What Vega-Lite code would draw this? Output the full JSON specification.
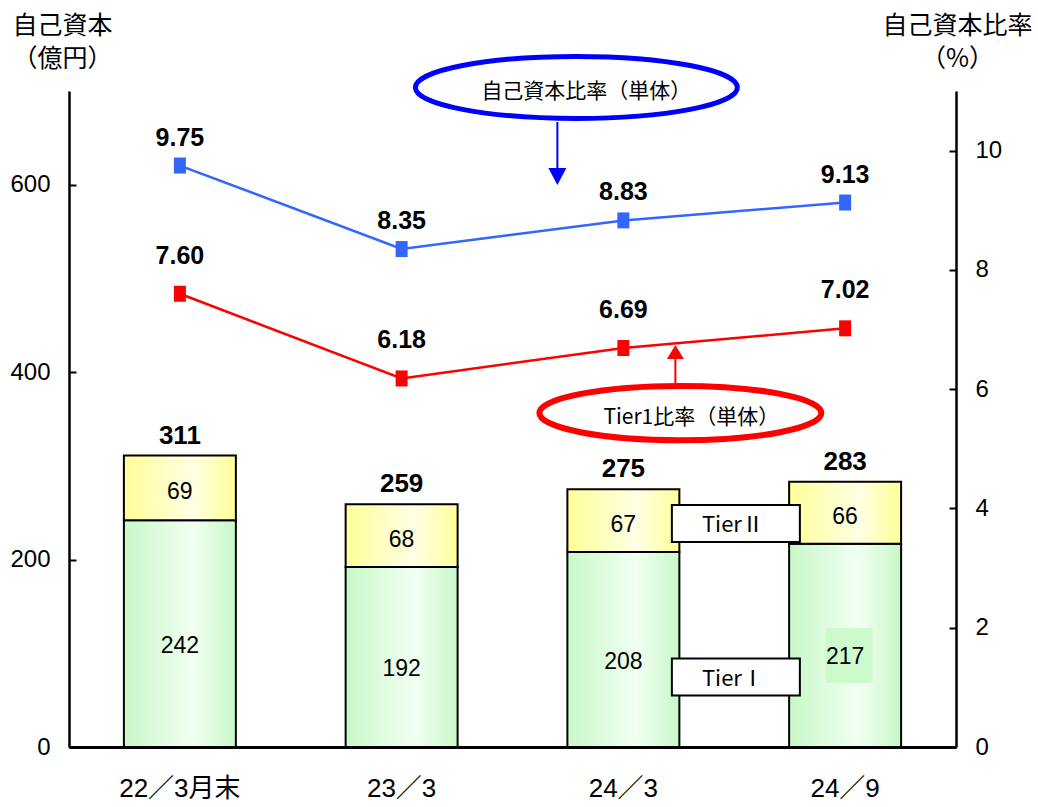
{
  "$schema": "https://vega.github.io/schema/vega-lite/v6.json",
  "width": 887,
  "height": 656,
  "autosize": {"type": "none"},
  "padding": {"left": 69, "top": 91, "right": 82, "bottom": 60},
  "background": "white",
  "config": {"view": {"stroke": null}, "axis": {"grid": false}},
  "datasets": {
    "cap": [
      {"cat": "22／3月末", "t1": 242, "t2": 69, "total": 311},
      {"cat": "23／3", "t1": 192, "t2": 68, "total": 259},
      {"cat": "24／3", "t1": 208, "t2": 67, "total": 275},
      {"cat": "24／9", "t1": 217, "t2": 66, "total": 283}
    ],
    "ratio": [
      {"cat": "22／3月末", "car": 9.75, "t1r": 7.60},
      {"cat": "23／3", "car": 8.35, "t1r": 6.18},
      {"cat": "24／3", "car": 8.83, "t1r": 6.69},
      {"cat": "24／9", "car": 9.13, "t1r": 7.02}
    ]
  },
  "encoding": {
    "x": {
      "field": "cat",
      "type": "nominal",
      "scale": {"domain": ["22／3月末", "23／3", "24／3", "24／9"], "paddingInner": 0.495, "paddingOuter": 0.2475},
      "axis": {
        "title": null,
        "labelAngle": 0,
        "ticks": false,
        "domainColor": "black",
        "domainWidth": 3,
        "labelColor": "black",
        "labelFont": "Liberation Sans, Noto Sans CJK JP, sans-serif",
        "labelFontSize": 26,
        "labelPadding": 28
      }
    }
  },
  "layer": [
    {
      "data": {"name": "cap"},
      "layer": [
        {
          "mark": {
            "type": "bar",
            "stroke": "black",
            "strokeWidth": 2,
            "fill": {"gradient": "linear", "x1": 0, "x2": 1, "y1": 0, "y2": 0,
              "stops": [{"offset": 0, "color": "#c8f8c8"}, {"offset": 0.62, "color": "#f2fff2"}, {"offset": 1, "color": "#c8f8c8"}]}
          },
          "encoding": {
            "y": {
              "field": "t1",
              "type": "quantitative",
              "scale": {"domain": [0, 700], "nice": false},
              "axis": {
                "orient": "left",
                "values": [0, 200, 400, 600],
                "format": "d",
                "tickSize": -7,
                "tickWidth": 2,
                "tickColor": "black",
                "domainColor": "black",
                "domainWidth": 2.5,
                "labelColor": "black",
                "labelFont": "Liberation Sans, sans-serif",
                "labelFontSize": 24,
                "labelPadding": 26,
                "title": ["自己資本", "（億円）"],
                "titleAngle": 0,
                "titleAlign": "center",
                "titleBaseline": "top",
                "titleX": -7,
                "titleY": -78,
                "titleFont": "Noto Sans CJK JP",
                "titleFontSize": 25,
                "titleFontWeight": "normal",
                "titleLineHeight": 33,
                "titleColor": "black"
              }
            }
          }
        },
        {
          "mark": {
            "type": "bar",
            "stroke": "black",
            "strokeWidth": 2,
            "fill": {"gradient": "linear", "x1": 0, "x2": 1, "y1": 0, "y2": 0,
              "stops": [{"offset": 0, "color": "#ffff99"}, {"offset": 0.62, "color": "#ffffe4"}, {"offset": 1, "color": "#ffff99"}]}
          },
          "encoding": {
            "y": {"field": "total", "type": "quantitative"},
            "y2": {"field": "t1"}
          }
        },
        {
          "mark": {"type": "text", "font": "Liberation Sans, sans-serif", "fontSize": 26, "fontWeight": "bold", "color": "black", "baseline": "alphabetic", "dy": -12},
          "encoding": {
            "y": {"field": "total", "type": "quantitative"},
            "text": {"field": "total"}
          }
        },
        {
          "transform": [{"fold": ["t1", "total"], "as": ["k", "v"]}],
          "mark": {"type": "text", "font": "Liberation Sans, sans-serif", "fontSize": 23, "color": "black", "baseline": "middle", "dy": 4},
          "encoding": {
            "y": {"aggregate": "mean", "field": "v", "type": "quantitative"},
            "text": {"field": "t2", "type": "quantitative"}
          }
        },
        {
          "data": {"values": [{"cat": "24／9", "v": 97.6}]},
          "mark": {"type": "point", "shape": "M -1 -1.17 L 1 -1.17 L 1 1.17 L -1 1.17 Z", "size": 2209, "filled": true, "color": "#cdfacd", "opacity": 1, "strokeWidth": 0, "xOffset": 4},
          "encoding": {"y": {"field": "v", "type": "quantitative"}}
        },
        {
          "data": {"values": [{"cat": "24／3", "v": 238.5}, {"cat": "24／3", "v": 74.7}]},
          "mark": {"type": "point", "shape": "M -1 -0.289 L 1 -0.289 L 1 0.289 L -1 0.289 Z", "size": 16384, "filled": true, "fill": "white", "stroke": "black", "strokeWidth": 2, "opacity": 1, "xOffset": 112.5},
          "encoding": {"y": {"field": "v", "type": "quantitative"}}
        },
        {
          "data": {"values": [{"cat": "24／3", "v": 238.5, "label": "TierⅡ"}, {"cat": "24／3", "v": 74.7, "label": "TierⅠ"}]},
          "mark": {"type": "text", "font": "Noto Sans CJK JP", "fontSize": 22, "color": "black", "baseline": "middle", "xOffset": 109.5, "dy": 2},
          "encoding": {"y": {"field": "v", "type": "quantitative"}, "text": {"field": "label"}}
        }
      ]
    },
    {
      "data": {"name": "cap"},
      "mark": {"type": "text", "font": "Liberation Sans, sans-serif", "fontSize": 23, "color": "black", "baseline": "middle", "dy": 12},
      "encoding": {
        "y": {"field": "t1", "type": "quantitative", "scale": {"domain": [0, 1400], "nice": false}, "axis": null},
        "text": {"field": "t1"}
      }
    },
    {
      "data": {"name": "ratio"},
      "layer": [
        {
          "mark": {"type": "line", "color": "#3366ff", "strokeWidth": 2.5},
          "encoding": {
            "y": {
              "field": "car",
              "type": "quantitative",
              "scale": {"domain": [0, 11], "nice": false},
              "axis": {
                "orient": "right",
                "values": [0, 2, 4, 6, 8, 10],
                "format": "d",
                "tickSize": -7,
                "tickWidth": 2,
                "tickColor": "black",
                "domainColor": "black",
                "domainWidth": 2.5,
                "labelColor": "black",
                "labelFont": "Liberation Sans, sans-serif",
                "labelFontSize": 24,
                "labelPadding": 26,
                "title": ["自己資本比率", "（%）"],
                "titleAngle": 0,
                "titleAlign": "center",
                "titleBaseline": "top",
                "titleX": 1,
                "titleY": -78,
                "titleFont": "Noto Sans CJK JP",
                "titleFontSize": 25,
                "titleFontWeight": "normal",
                "titleLineHeight": 33,
                "titleColor": "black"
              }
            }
          }
        },
        {
          "mark": {"type": "point", "shape": "M -0.75 -1 L 0.75 -1 L 0.75 1 L -0.75 1 Z", "size": 256, "filled": true, "color": "#3366ff", "opacity": 1},
          "encoding": {"y": {"field": "car", "type": "quantitative"}}
        },
        {
          "mark": {"type": "text", "font": "Liberation Sans, sans-serif", "fontSize": 25, "fontWeight": "bold", "color": "black", "baseline": "alphabetic", "dy": -20},
          "encoding": {"y": {"field": "car", "type": "quantitative"}, "text": {"field": "car", "type": "quantitative", "format": ".2f"}}
        },
        {
          "mark": {"type": "line", "color": "#ff0000", "strokeWidth": 2.5},
          "encoding": {"y": {"field": "t1r", "type": "quantitative"}}
        },
        {
          "mark": {"type": "point", "shape": "M -0.75 -1 L 0.75 -1 L 0.75 1 L -0.75 1 Z", "size": 256, "filled": true, "color": "#ff0000", "opacity": 1},
          "encoding": {"y": {"field": "t1r", "type": "quantitative"}}
        },
        {
          "mark": {"type": "text", "font": "Liberation Sans, sans-serif", "fontSize": 25, "fontWeight": "bold", "color": "black", "baseline": "alphabetic", "dy": -30},
          "encoding": {"y": {"field": "t1r", "type": "quantitative"}, "text": {"field": "t1r", "type": "quantitative", "format": ".2f"}}
        },
        {
          "data": {"values": [{"cat": "24／3", "v": 11.06}]},
          "mark": {"type": "point", "shape": "M -1 0 C -1 -0.1063 -0.5523 -0.1925 0 -0.1925 C 0.5523 -0.1925 1 -0.1063 1 0 C 1 0.1063 0.5523 0.1925 0 0.1925 C -0.5523 0.1925 -1 0.1063 -1 0 Z", "size": 103684, "filled": false, "stroke": "#0000ff", "strokeWidth": 5, "opacity": 1, "xOffset": -47},
          "encoding": {"y": {"field": "v", "type": "quantitative"}}
        },
        {
          "data": {"values": [{"cat": "24／3", "v": 10.98, "label": "自己資本比率（単体）"}]},
          "mark": {"type": "text", "font": "Noto Sans CJK JP", "fontSize": 21, "color": "black", "baseline": "middle", "xOffset": -37},
          "encoding": {"y": {"field": "v", "type": "quantitative"}, "text": {"field": "label"}}
        },
        {
          "data": {"values": [{"cat": "24／3", "v": 10.48, "v2": 9.675}]},
          "mark": {"type": "rule", "color": "#0000ff", "strokeWidth": 2, "xOffset": -66},
          "encoding": {"y": {"field": "v", "type": "quantitative"}, "y2": {"field": "v2"}}
        },
        {
          "data": {"values": [{"cat": "24／3", "v": 9.566}]},
          "mark": {"type": "point", "shape": "M -1 -0.944 L 1 -0.944 L 0 0.944 Z", "size": 324, "filled": true, "color": "#0000ff", "opacity": 1, "xOffset": -66},
          "encoding": {"y": {"field": "v", "type": "quantitative"}}
        },
        {
          "data": {"values": [{"cat": "24／3", "v": 5.6}]},
          "mark": {"type": "point", "shape": "M -1 0 C -1 -0.1063 -0.5523 -0.1925 0 -0.1925 C 0.5523 -0.1925 1 -0.1063 1 0 C 1 0.1063 0.5523 0.1925 0 0.1925 C -0.5523 0.1925 -1 0.1063 -1 0 Z", "size": 79524, "filled": false, "stroke": "#ff0000", "strokeWidth": 6, "opacity": 1, "xOffset": 57},
          "encoding": {"y": {"field": "v", "type": "quantitative"}}
        },
        {
          "data": {"values": [{"cat": "24／3", "v": 5.525, "label": "Tier1比率（単体）"}]},
          "mark": {"type": "text", "font": "Noto Sans CJK JP", "fontSize": 21, "color": "black", "baseline": "middle", "xOffset": 68},
          "encoding": {"y": {"field": "v", "type": "quantitative"}, "text": {"field": "label"}}
        },
        {
          "data": {"values": [{"cat": "24／3", "v": 6.104, "v2": 6.506}]},
          "mark": {"type": "rule", "color": "#ff0000", "strokeWidth": 2, "xOffset": 52},
          "encoding": {"y": {"field": "v", "type": "quantitative"}, "y2": {"field": "v2"}}
        },
        {
          "data": {"values": [{"cat": "24／3", "v": 6.623}]},
          "mark": {"type": "point", "shape": "M -1 0.824 L 1 0.824 L 0 -0.824 Z", "size": 289, "filled": true, "color": "#ff0000", "opacity": 1, "xOffset": 52},
          "encoding": {"y": {"field": "v", "type": "quantitative"}}
        }
      ]
    }
  ],
  "resolve": {"scale": {"y": "independent"}}
}
